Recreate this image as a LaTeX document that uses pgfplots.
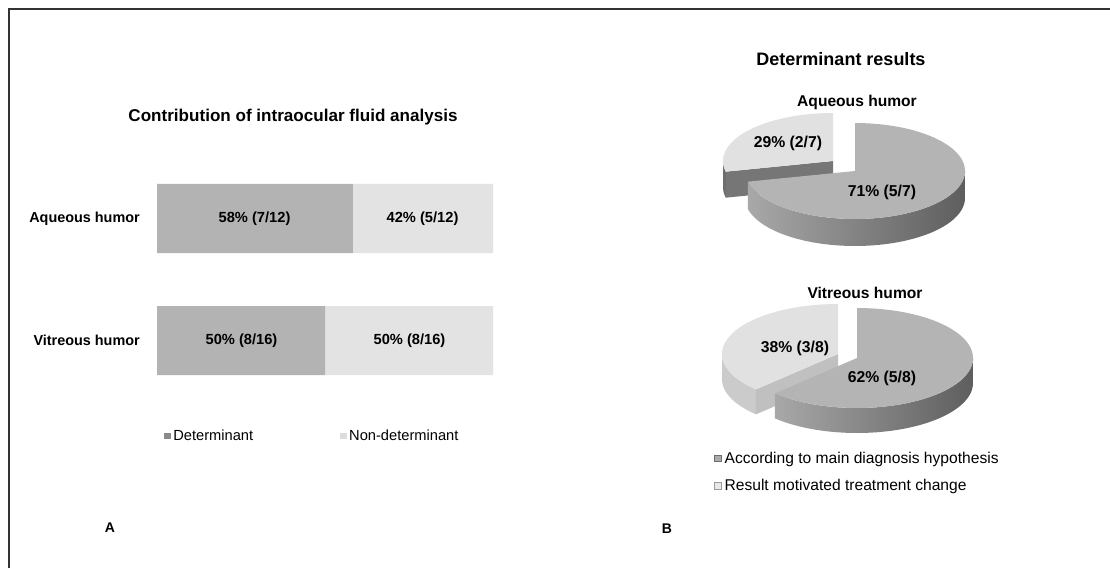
\documentclass[border=0pt]{standalone}
\usepackage{fontspec}
\setmainfont{Liberation Sans}
\usepackage{pgfplots}
\pgfplotsset{compat=1.18}
\definecolor{framec}{HTML}{333333}
\definecolor{detbar}{HTML}{B3B3B3}
\definecolor{nondet}{HTML}{E3E3E3}
\definecolor{detleg}{HTML}{8A8A8A}
\definecolor{nondetleg}{HTML}{DCDCDC}
\definecolor{mtop}{HTML}{B4B4B4}
\definecolor{mside1}{HTML}{A8A8A8}
\definecolor{mside2}{HTML}{5E5E5E}
\definecolor{stop}{HTML}{E1E1E1}
\definecolor{sdark}{HTML}{6E6E6E}
\definecolor{sdarkb}{HTML}{767676}
\definecolor{slight}{HTML}{CBCBCB}
\definecolor{slightb}{HTML}{C0C0C0}
\definecolor{legA}{HTML}{ABABAB}
\definecolor{legAd}{HTML}{6E6E6E}
\definecolor{legB}{HTML}{E8E8E8}
\definecolor{legBd}{HTML}{9C9C9C}
\newcommand\ftitle{\fontsize{12.8}{15}\selectfont\bfseries}
\newcommand\fcat{\fontsize{10.8}{13}\selectfont\bfseries}
\newcommand\fbar{\fontsize{11}{13}\selectfont\bfseries}
\newcommand\flegA{\fontsize{11}{13}\selectfont}
\newcommand\fpiet{\fontsize{13.5}{16}\selectfont\bfseries}
\newcommand\fpiesub{\fontsize{11.7}{14}\selectfont\bfseries}
\newcommand\fpie{\fontsize{11.8}{14}\selectfont\bfseries}
\newcommand\flegB{\fontsize{11.7}{14}\selectfont}
\newcommand\fAB{\fontsize{10.5}{12}\selectfont\bfseries}
\begin{document}
\begin{tikzpicture}
\useasboundingbox (0,0) rectangle (832.5pt,426pt);
\draw[line width=1.5pt, draw=framec] (6.75pt,0pt) -- (6.75pt,419.25pt) -- (832.5pt,419.25pt);
% titles and panel letters
\node[font=\ftitle] at (219.75pt,338.25pt) {Contribution of intraocular fluid analysis};
\node[font=\fpiet] at (630.75pt,381.75pt) {Determinant results};
\node[font=\fpiesub] at (642.75pt,349.5pt) {Aqueous humor};
\node[font=\fpiesub] at (648.75pt,206.25pt) {Vitreous humor};
\node[font=\fAB] at (82.5pt,30pt) {A};
\node[font=\fAB] at (500.25pt,29.25pt) {B};
% ---------- A: stacked bars ----------
\begin{axis}[name=bars, at={(117.75pt,124.875pt)}, anchor=south west, scale only axis,
  width=252pt, height=183pt, xmin=0, xmax=100, ymin=-0.5, ymax=1.5,
  xbar stacked, bar width=51.75pt, clip=false,
  axis line style={draw=none}, xtick=\empty, ytick={0,1},
  yticklabels={Vitreous humor,Aqueous humor}, major tick length=0pt,
  yticklabel style={font=\fcat, anchor=east, inner sep=0pt, xshift=-12.75pt},
  legend columns=2,
  legend style={at={(axis description cs:0.02,-0.1413)}, anchor=west, draw=none, fill=none,
    inner sep=0pt, font=\flegA, /tikz/every even column/.append style={column sep=63pt}},
  ]
\addplot[fill=detbar, draw=none,
  legend image code/.code={\fill[detleg] (0pt,-2.6pt) rectangle (5pt,2.6pt);}]
  coordinates {(50,0) (58.33,1)};
\addlegendentry{Determinant}
\addplot[fill=nondet, draw=none,
  legend image code/.code={\fill[nondetleg] (0pt,-2.6pt) rectangle (5pt,2.6pt);}]
  coordinates {(50,0) (41.67,1)};
\addlegendentry{Non-determinant}
\end{axis}
% bar value labels (centred in each segment)
\node[font=\fbar] at (190.9pt,262.1pt) {58\% (7/12)};
\node[font=\fbar] at (316.9pt,262.1pt) {42\% (5/12)};
\node[font=\fbar] at (181.1pt,170.6pt) {50\% (8/16)};
\node[font=\fbar] at (307.1pt,170.6pt) {50\% (8/16)};
% ---------- B1: aqueous pie (5/7, 2/7) ----------
\begin{axis}[at={(536.25pt,230.25pt)}, anchor=south west, scale only axis,
  width=210pt, height=120pt, xmin=-140, xmax=140, ymin=-90, ymax=70,
  hide axis, clip=false]
% small slice 2/7 = 102.86 deg, from 90 to 192.86, exploded
\addplot[forget plot, fill=sdark, draw=none, variable=\s, domain=0:2, samples=41]
  ({-22+110*cos(180+12.86*abs(\s-1))}, {10+48*sin(180+12.86*abs(\s-1))-26*(\s>1)}) -- cycle;
\addplot[forget plot, fill=sdarkb, draw=none, variable=\s, domain=0:3, samples=4]
  ({-22+110*cos(192.86)*(\s>0.5)*(\s<2.5)}, {10+48*sin(192.86)*(\s>0.5)*(\s<2.5)-26*(\s>1.5)}) -- cycle;
\addplot[forget plot, fill=stop, draw=none, variable=\t, domain=90:192.86, samples=60]
  ({-22+110*cos(\t)}, {10+48*sin(\t)}) -- (axis cs:-22,10) -- cycle;
% main slice 5/7 = 257.14 deg, from -167.14 to 90
\addplot[forget plot, draw=none, left color=mside1, right color=mside2, variable=\s, domain=0:2, samples=121]
  ({110*cos(-167.14*abs(\s-1))}, {48*sin(-167.14*abs(\s-1))-27*(\s>1)}) -- cycle;
\addplot[forget plot, fill=mtop, draw=none, variable=\t, domain=-167.14:90, samples=120]
  ({110*cos(\t)}, {48*sin(\t)}) -- (axis cs:0,0) -- cycle;
\node[font=\fpie] at (axis cs:-67,28) {29\% (2/7)};
\node[font=\fpie] at (axis cs:27,-21) {71\% (5/7)};
\end{axis}
% ---------- B2: vitreous pie (5/8, 3/8) ----------
\begin{axis}[at={(537.75pt,90pt)}, anchor=south west, scale only axis,
  width=210pt, height=120pt, xmin=-140, xmax=140, ymin=-90, ymax=70,
  hide axis, clip=false,
  legend style={at={(axis description cs:-0.011,-0.005)}, anchor=north west, draw=none, fill=none,
    inner sep=0pt, font=\flegB, row sep=6.5pt}, legend cell align=left]
% small slice 3/8 = 135 deg, from 90 to 225, exploded
\addplot[forget plot, fill=slight, draw=none, variable=\s, domain=0:2, samples=41]
  ({-19+116*cos(180+45*abs(\s-1))}, {4+50*sin(180+45*abs(\s-1))-25*(\s>1)}) -- cycle;
\addplot[forget plot, fill=slightb, draw=none, variable=\s, domain=0:3, samples=4]
  ({-19+116*cos(225)*(\s>0.5)*(\s<2.5)}, {4+50*sin(225)*(\s>0.5)*(\s<2.5)-25*(\s>1.5)}) -- cycle;
\addplot[forget plot, fill=stop, draw=none, variable=\t, domain=90:225, samples=60]
  ({-19+116*cos(\t)}, {4+50*sin(\t)}) -- (axis cs:-19,4) -- cycle;
% main slice 5/8 = 225 deg, from -135 to 90
\addplot[forget plot, draw=none, left color=mside1, right color=mside2, variable=\s, domain=0:2, samples=121]
  ({116*cos(-135*abs(\s-1))}, {50*sin(-135*abs(\s-1))-25*(\s>1)}) -- cycle;
\addplot[forget plot, fill=mtop, draw=none, variable=\t, domain=-135:90, samples=120]
  ({116*cos(\t)}, {50*sin(\t)}) -- (axis cs:0,0) -- cycle;
\node[font=\fpie] at (axis cs:-62,10) {38\% (3/8)};
\node[font=\fpie] at (axis cs:25,-20) {62\% (5/8)};
\addlegendimage{legend image code/.code={\filldraw[fill=legA, draw=legAd, line width=0.6pt] (0pt,-2.6pt) rectangle (5.2pt,2.6pt);}}
\addlegendentry{According to main diagnosis hypothesis}
\addlegendimage{legend image code/.code={\filldraw[fill=legB, draw=legBd, line width=0.6pt] (0pt,-2.6pt) rectangle (5.2pt,2.6pt);}}
\addlegendentry{Result motivated treatment change}
\end{axis}
\end{tikzpicture}
\end{document}
